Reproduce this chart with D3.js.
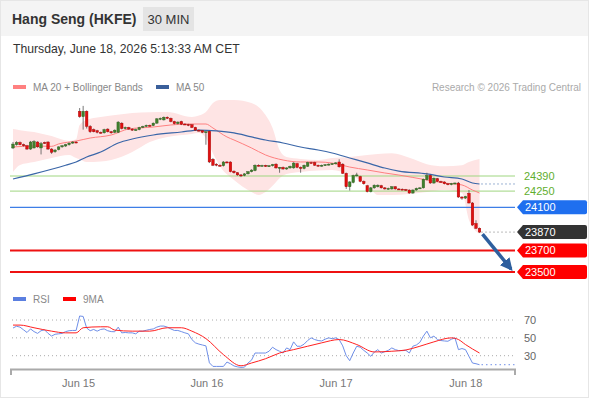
<!DOCTYPE html>
<html lang="en">
<head>
  <meta charset="UTF-8">
  <title>Hang Seng (HKFE) 30 MIN</title>
  <script src="https://d3js.org/d3.v7.min.js"></script>
  <style>
    body { margin: 0; background: #fff; font-family: "Liberation Sans", Arial, sans-serif; }
    svg text { font-family: "Liberation Sans", Arial, sans-serif; }
  </style>
</head>
<body>
  <div id="chart"></div>

  <script>
    const width = 590, height = 400;

    // 30-minute candles, Jun 12 night session -> Jun 18
    const opens  = [24650,24680,24700,24680,24670,24640,24650,24705,24650,24700,24705,24640,24615,24635,24660,24668,24680,24695,24705,
      24990,24940,24990,24850,24820,24810,24795,24790,24825,24800,24795,24795,24880,24830,24840,24825,24815,24820,24840,24850,24860,
      24858,24880,24915,24910,24935,24925,24895,24875,24895,24872,24868,24865,24840,24815,24810,24795,24805,24545,24500,24490,
      24485,24520,24520,24435,24420,24400,24395,24410,24430,24440,24490,24485,24488,24480,24485,24500,24465,24470,24455,24465,
      24465,24505,24470,24460,24480,24515,24515,24490,24482,24490,24495,24500,24505,24520,24500,24415,24290,24330,24395,24385,
      24340,24300,24245,24280,24290,24300,24280,24270,24270,24290,24270,24268,24265,24260,24232,24260,24275,24280,24355,24395,
      24325,24365,24340,24335,24318,24310,24320,24325,24195,24185,24230,24140,23950,23905];
    const highs  = [24705,24712,24710,24690,24678,24715,24722,24712,24705,24708,24712,24648,24640,24665,24678,24688,24700,24712,24712,
      25020,25040,24998,24862,24830,24818,24802,24828,24832,24808,24822,24898,24888,24848,24846,24832,24828,24846,24856,24866,24866,
      24886,24926,24932,24942,24942,24932,24902,24896,24902,24878,24874,24872,24846,24822,24816,24808,24812,24556,24508,24498,
      24528,24528,24526,24442,24426,24408,24416,24436,24452,24498,24498,24494,24494,24492,24502,24508,24474,24478,24470,24486,
      24518,24512,24478,24496,24522,24522,24522,24496,24496,24500,24506,24510,24518,24545,24508,24422,24342,24402,24420,24392,
      24348,24308,24288,24312,24312,24308,24288,24282,24296,24296,24276,24274,24270,24266,24266,24282,24286,24366,24420,24402,
      24376,24372,24346,24340,24324,24326,24330,24335,24202,24206,24260,24148,23980,23912];
    const lows   = [24640,24672,24675,24662,24632,24632,24645,24652,24590,24688,24632,24595,24605,24628,24652,24660,24672,24688,24694,
      24930,24820,24830,24790,24795,24785,24782,24784,24794,24782,24788,24788,24822,24822,24818,24808,24810,24814,24834,24844,24848,
      24852,24874,24908,24904,24918,24888,24868,24868,24862,24862,24852,24834,24808,24802,24788,24680,24510,24482,24480,24476,
      24478,24508,24424,24412,24392,24380,24388,24404,24424,24434,24478,24478,24474,24474,24478,24458,24420,24448,24448,24458,
      24458,24462,24420,24452,24474,24504,24484,24476,24476,24484,24488,24494,24498,24468,24408,24270,24255,24322,24386,24332,
      24310,24238,24238,24272,24284,24274,24264,24264,24264,24264,24262,24260,24252,24226,24226,24254,24270,24274,24348,24318,
      24318,24334,24330,24312,24304,24304,24314,24188,24170,24178,24134,23928,23898,23862];
    const closes = [24686,24700,24680,24670,24640,24705,24710,24660,24690,24695,24640,24610,24630,24660,24670,24680,24695,24705,24700,
      24940,24990,24850,24800,24800,24795,24790,24820,24800,24790,24815,24890,24830,24840,24825,24815,24820,24840,24850,24860,24855,
      24880,24920,24925,24935,24925,24895,24875,24890,24870,24868,24860,24840,24815,24810,24795,24800,24520,24490,24490,24485,
      24520,24515,24430,24420,24400,24395,24410,24430,24445,24490,24485,24488,24480,24485,24495,24465,24470,24455,24465,24480,
      24510,24470,24460,24490,24515,24510,24490,24482,24490,24495,24500,24505,24512,24475,24415,24290,24335,24395,24400,24340,
      24318,24245,24280,24305,24305,24280,24270,24275,24290,24270,24268,24265,24258,24232,24260,24275,24280,24360,24395,24325,
      24370,24340,24335,24318,24310,24320,24325,24195,24185,24200,24140,23935,23905,23870];

    // indicators: [bar index, value]
    const ma20 = [[0,24659],[6,24668],[11,24665],[13,24687],[18,24714],[22,24742],[28,24770],[33,24826],[40,24844],[45,24863],
      [50,24872],[55,24872],[57,24835],[61,24752],[63,24724],[68,24650],[72,24585],[77,24538],[82,24520],[87,24520],[91,24510],
      [96,24473],[101,24446],[106,24418],[110,24399],[118,24353],[123,24325],[128,24307],[131,24260],[133,24232]];
    const ma50 = [[0,24362],[6,24410],[15,24490],[18,24520],[21,24566],[25,24612],[30,24696],[34,24733],[40,24770],[48,24798],
      [53,24816],[58,24808],[63,24789],[68,24752],[72,24724],[77,24696],[82,24659],[87,24631],[91,24603],[96,24557],[101,24511],
      [106,24464],[110,24436],[118,24409],[123,24381],[128,24362],[131,24325],[133,24316]];
    const bandIdx   = [0,2,6,11,16,18,19,21,25,28,34,39,44,51,53,55,57,59,63,68,70,72,74,76,78,82,87,91,96,101,104,108,113,118,123,128,130,133];
    const bandUpper = [24826,24815,24798,24760,24715,24730,24863,24909,24937,24950,24974,24980,24983,24937,24950,24983,25067,25095,25095,
      25067,25030,24955,24835,24631,24566,24548,24538,24557,24566,24585,24595,24600,24560,24500,24480,24490,24520,24548];
    const bandLower = [24427,24492,24520,24557,24585,24557,24545,24520,24525,24538,24612,24705,24752,24780,24789,24742,24600,24480,24353,
      24242,24214,24242,24300,24370,24409,24427,24440,24446,24399,24307,24214,24214,24223,24242,24260,24232,23982,23853];

    const rsi = [61,63,62,59,56,60,57,55,58,59,55,52,54,54.5,55,57,58,58.3,58.3,
      74.5,74,61,58,59.4,57.5,59.4,60,58,57,56.8,62,55.6,56,55.6,55.6,54.5,57.5,57.5,58.5,59.4,
      60,62,63.2,63.2,62,60,58.3,58.3,57,55.6,54.5,48.1,44.4,43,42,41,22,18,18,18,
      18,22.9,21,18.5,17.5,16.9,17.2,21.8,25,33,33,33,33,35,39.5,36.8,35,33,38.7,36.8,
      45.5,40.6,40.6,43,47,50,48.1,47,46.5,48.5,50,49,50,48,41,30,24.4,33,40.6,39.5,
      36,33,29.3,34,36.8,33,34.5,36,38.7,36.8,35.7,35.7,36,33,40.6,42,45,52,57.5,50,
      51.9,48.1,47,46.5,46.2,48.5,50,36.8,38,36.8,29.3,21.8,21,19.9];
    const rsiMa = [[0,64.3],[2,64.3],[6,61.3],[11,57.5],[15,55.6],[18,55.6],[20,61.3],[25,62.4],[27,62.4],[29,58.7],[34,57.5],
      [39,57.5],[44,61.3],[48,61.3],[51,57.5],[55,49.2],[60,31.2],[65,18.7],[68,21.8],[72,26.6],[76,33],[80,36.8],[84,40.6],
      [88,44.4],[93,48.1],[98,42.5],[103,34.2],[108,35],[112,36.4],[116,40.6],[120,45.5],[125,50],[127,48.1],[129,42.5],[133,33]];
    const rsiLevels = [70, 50, 30];

    const dayTicks  = [18.7, 55.3, 92.1, 129.1];
    const dayLabels = ["Jun 15", "Jun 16", "Jun 17", "Jun 18"];

    const levels = [
      {value: 24390, kind: "green"},
      {value: 24250, kind: "green"},
      {value: 24100, kind: "blue"},
      {value: 23870, kind: "last"},
      {value: 23700, kind: "red"},
      {value: 23500, kind: "red"}
    ];
    const targetPrice = 23500;

    const svg = d3.select("#chart").append("svg")
        .attr("width", width)
        .attr("height", height);

    // frame + header band
    svg.append("rect").attr("x", 0.5).attr("y", 0.5).attr("width", width - 2).attr("height", height - 3)
        .attr("fill", "#fff").attr("stroke", "#e6e6e6");
    svg.append("rect").attr("x", 1).attr("y", 1).attr("width", width - 3).attr("height", 35).attr("fill", "#f4f4f4");

    svg.append("text").attr("x", 12).attr("y", 24).attr("font-size", 14).attr("font-weight", "bold")
        .attr("fill", "#333").text("Hang Seng (HKFE)");
    svg.append("rect").attr("x", 143).attr("y", 7).attr("width", 51).attr("height", 24).attr("fill", "#e4e4e4");
    svg.append("text").attr("x", 168.5).attr("y", 24).attr("text-anchor", "middle").attr("font-size", 13)
        .attr("fill", "#333").text("30 MIN");
    svg.append("text").attr("x", 13).attr("y", 53).attr("font-size", 12.2).attr("fill", "#333")
        .text("Thursday, June 18, 2026 5:13:33 AM CET");

    // legends
    const legend = (x, y, color, label) => {
      svg.append("rect").attr("x", x).attr("y", y - 2).attr("width", 13).attr("height", 4).attr("fill", color);
      svg.append("text").attr("x", x + 20).attr("y", y + 3.5).attr("font-size", 10).attr("fill", "#888").text(label);
    };
    legend(13, 87, "#ff8080", "MA 20 + Bollinger Bands");
    legend(156, 87, "#3a5f9a", "MA 50");
    svg.append("text").attr("x", 581).attr("y", 90.5).attr("text-anchor", "end").attr("font-size", 10)
        .attr("fill", "#aaa").text("Research \u00a9 2026 Trading Central");
    legend(13, 299, "#5b7fe0", "RSI");
    legend(63, 299, "#ff0000", "9MA");

    // scales
    const x = d3.scaleLinear().domain([0, closes.length - 1]).range([13, 479.5]);
    const y = d3.scaleLinear().domain([23500, 24390]).range([272, 176]);
    const yr = d3.scaleLinear().domain([30, 70]).range([355.7, 320]);
    const plotLeft = 10, plotRight = 515;

    // Bollinger band
    const bands = bandIdx.map((d, k) => ({i: d, hi: bandUpper[k], lo: bandLower[k]}));
    svg.append("path").datum(bands)
        .attr("fill", "#fee4e4")
        .attr("d", d3.area().curve(d3.curveMonotoneX)
          .x(d => x(d.i)).y0(d => y(d.lo)).y1(d => y(d.hi)));

    // horizontal levels
    const lv = svg.append("g");
    levels.forEach(l => {
      const yy = y(l.value);
      if (l.kind === "green") {
        lv.append("line").attr("x1", plotLeft).attr("x2", plotRight).attr("y1", yy).attr("y2", yy)
          .attr("stroke", "#9fd680").attr("stroke-width", 1);
      } else if (l.kind === "blue") {
        lv.append("line").attr("x1", plotLeft).attr("x2", plotRight).attr("y1", yy).attr("y2", yy)
          .attr("stroke", "#3d7ee6").attr("stroke-width", 1.2);
      } else if (l.kind === "red") {
        lv.append("line").attr("x1", plotLeft).attr("x2", plotRight).attr("y1", yy).attr("y2", yy)
          .attr("stroke", "#ee1111").attr("stroke-width", 2);
      } else {
        lv.append("line").attr("x1", x(closes.length - 1) + 2).attr("x2", plotRight).attr("y1", yy).attr("y2", yy)
          .attr("stroke", "#777").attr("stroke-dasharray", "1,3");
      }
    });

    // moving averages
    const kLine = d3.line().curve(d3.curveMonotoneX).x(d => x(d[0])).y(d => y(d[1]));
    svg.append("path").datum(ma20).attr("fill", "none").attr("stroke", "#ff8080").attr("stroke-width", 1).attr("d", kLine);
    svg.append("path").datum(ma50).attr("fill", "none").attr("stroke", "#3a66a8").attr("stroke-width", 1.2).attr("d", kLine);
    const lastMa50 = ma50[ma50.length - 1];
    svg.append("line").attr("x1", x(lastMa50[0]) + 2).attr("x2", plotRight)
        .attr("y1", y(lastMa50[1])).attr("y2", y(lastMa50[1]))
        .attr("stroke", "#3a66a8").attr("stroke-dasharray", "1,3");

    // candles
    const bars = closes.map((c, i) => ({i, o: opens[i], h: highs[i], l: lows[i], c}));
    const cg = svg.append("g");
    cg.selectAll("line").data(bars).join("line")
        .attr("x1", d => x(d.i)).attr("x2", d => x(d.i))
        .attr("y1", d => y(d.h)).attr("y2", d => y(d.l))
        .attr("stroke", "#555").attr("stroke-width", 0.8);
    cg.selectAll("rect").data(bars).join("rect")
        .attr("x", d => x(d.i) - 1.3).attr("width", 2.6)
        .attr("y", d => y(Math.max(d.o, d.c)))
        .attr("height", d => Math.max(1, Math.abs(y(d.o) - y(d.c))))
        .attr("fill", d => d.c >= d.o ? "#3f7f2c" : "#e01010")
        .attr("stroke", d => d.c >= d.o ? "#2d5e1e" : "#a00000")
        .attr("stroke-width", 0.4);

    // forecast arrow
    const defs = svg.append("defs");
    defs.append("marker").attr("id", "head").attr("viewBox", "0 0 10 10").attr("refX", 8).attr("refY", 5)
        .attr("markerWidth", 3.6).attr("markerHeight", 3.6).attr("orient", "auto")
      .append("path").attr("d", "M0,0L10,5L0,10Z").attr("fill", "#2e5f9e");
    svg.append("line")
        .attr("x1", x(closes.length - 1) + 3).attr("y1", y(closes[closes.length - 1]) + 2)
        .attr("x2", plotRight - 4).attr("y2", y(targetPrice) - 3)
        .attr("stroke", "#2e5f9e").attr("stroke-width", 3.5).attr("marker-end", "url(#head)");

    // price tags
    const tagColors = {blue: "#1f6fef", last: "#333333", red: "#ff0000"};
    levels.forEach(l => {
      const yy = y(l.value);
      if (l.kind === "green") {
        svg.append("text").attr("x", 524).attr("y", yy + 4).attr("font-size", 11)
          .attr("fill", "#5fae2e").text(l.value);
      } else {
        svg.append("path")
          .attr("d", `M${plotRight + 2},${yy} L${plotRight + 8},${yy - 7} H585 Q587,${yy - 7} 587,${yy - 5} V${yy + 5} Q587,${yy + 7} 585,${yy + 7} H${plotRight + 8} Z`)
          .attr("fill", tagColors[l.kind]);
        svg.append("text").attr("x", 525).attr("y", yy + 4).attr("font-size", 11)
          .attr("fill", "#fff").text(l.value);
      }
    });

    // RSI panel
    svg.append("g").selectAll("line").data(rsiLevels).join("line")
        .attr("x1", 12).attr("x2", plotRight).attr("y1", d => yr(d)).attr("y2", d => yr(d))
        .attr("stroke", "#aaa").attr("stroke-dasharray", "1,3");
    svg.append("g").selectAll("text").data(rsiLevels).join("text")
        .attr("x", 524).attr("y", d => yr(d) + 4).attr("font-size", 11).attr("fill", "#666").text(d => d);

    svg.append("path").datum(rsi).attr("fill", "none").attr("stroke", "#6f8fe8").attr("stroke-width", 1)
        .attr("d", d3.line().x((d, i) => x(i)).y(d => yr(d)));
    svg.append("line").attr("x1", x(rsi.length - 1) + 2).attr("x2", plotRight)
        .attr("y1", yr(rsi[rsi.length - 1])).attr("y2", yr(rsi[rsi.length - 1]))
        .attr("stroke", "#6f8fe8").attr("stroke-dasharray", "1.5,3");
    svg.append("path").datum(rsiMa).attr("fill", "none").attr("stroke", "#ff2020").attr("stroke-width", 1)
        .attr("d", d3.line().curve(d3.curveMonotoneX).x(d => x(d[0])).y(d => yr(d[1])));

    // time axis
    const axisY = 369.5;
    svg.append("path").attr("d", `M11,375V${axisY}H${plotRight}V375`)
        .attr("fill", "none").attr("stroke", "#aaa").attr("stroke-width", 2);
    svg.append("g").selectAll("text").data(dayTicks).join("text")
        .attr("x", d => x(d)).attr("y", 387).attr("text-anchor", "middle")
        .attr("font-size", 11).attr("fill", "#777")
        .text((d, k) => dayLabels[k]);
  </script>
</body>
</html>
